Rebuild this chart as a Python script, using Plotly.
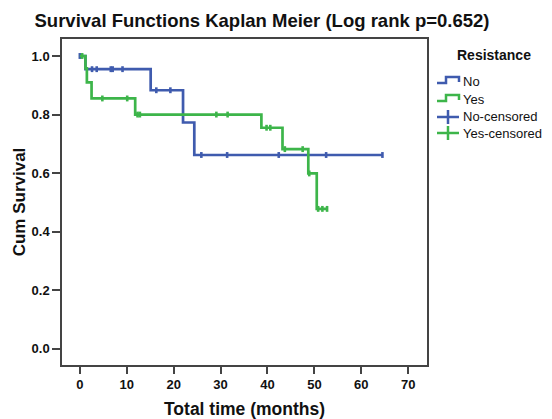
import plotly.graph_objects as go

# ---- data ----
no_times = [0, 1.2, 15.1, 22.0, 24.4, 64.5]
no_surv = [1.0, 0.955, 0.883, 0.773, 0.662, 0.662]
no_cens_t = [0, 2.6, 3.6, 6.6, 7.0, 9.1, 16.3, 19.3, 25.9, 31.4, 42.4, 52.5, 64.5]
no_cens_s = [1.0, 0.955, 0.955, 0.955, 0.955, 0.955, 0.883, 0.883,
             0.662, 0.662, 0.662, 0.662, 0.662]

yes_times = [0, 1.2, 1.5, 2.5, 11.8, 38.7, 43.2, 48.7, 50.5, 52.7]
yes_surv = [1.0, 0.958, 0.91, 0.855, 0.80, 0.755, 0.682, 0.599, 0.478, 0.478]
yes_cens_t = [0.5, 4.8, 10.1, 12.3, 12.8, 29.1, 31.5, 39.8, 40.6, 43.7, 47.5,
              48.9, 50.8, 51.7, 52.7]
yes_cens_s = [1.0, 0.855, 0.855, 0.80, 0.80, 0.80, 0.80, 0.755, 0.755, 0.682,
              0.682, 0.599, 0.478, 0.478, 0.478]

x_ticks = [0, 10, 20, 30, 40, 50, 60, 70]
y_ticks = [0.0, 0.2, 0.4, 0.6, 0.8, 1.0]
legend_title = "Resistance"
legend_labels = ["No", "Yes", "No-censored", "Yes-censored"]

BLUE = "#3f5bae"
GREEN = "#3db54a"
FONT = "Liberation Sans, Arial, sans-serif"

W, H = 552, 419
L, R, T, B = 62, 125, 39, 54
PW, PH = W - L - R, H - T - B


def px(x):
    return (x - L) / PW


def py(y):
    return (H - B - y) / PH


fig = go.Figure()
fig.add_trace(go.Scatter(x=no_times, y=no_surv, mode="lines",
                         line=dict(color=BLUE, width=2.7, shape="hv"),
                         showlegend=False))
fig.add_trace(go.Scatter(x=no_cens_t, y=no_cens_s, mode="markers",
                         marker=dict(symbol="line-ns", size=4.2,
                                     line=dict(color=BLUE, width=2.6)),
                         showlegend=False))
fig.add_trace(go.Scatter(x=yes_times, y=yes_surv, mode="lines",
                         line=dict(color=GREEN, width=2.7, shape="hv"),
                         showlegend=False))
fig.add_trace(go.Scatter(x=yes_cens_t, y=yes_cens_s, mode="markers",
                         marker=dict(symbol="line-ns", size=4.2,
                                     line=dict(color=GREEN, width=2.6)),
                         showlegend=False))

# ---- custom legend (step icons and cross icons) ----
shapes = []
annotations = []
row_y = [81, 99, 117, 133]
colors = [BLUE, GREEN, BLUE, GREEN]
for i, (lab, yy, c) in enumerate(zip(legend_labels, row_y, colors)):
    if i < 2:
        path = (f"M {px(437)},{py(yy + 2)} L {px(446)},{py(yy + 2)} "
                f"L {px(446)},{py(yy - 4)} L {px(459)},{py(yy - 4)} "
                f"L {px(459)},{py(yy + 1)}")
        shapes.append(dict(type="path", path=path, xref="paper", yref="paper",
                           line=dict(color=c, width=2.5)))
    else:
        shapes.append(dict(type="line", xref="paper", yref="paper",
                           x0=px(437), x1=px(459), y0=py(yy), y1=py(yy),
                           line=dict(color=c, width=2.5)))
        shapes.append(dict(type="line", xref="paper", yref="paper",
                           x0=px(448), x1=px(448), y0=py(yy - 7), y1=py(yy + 7),
                           line=dict(color=c, width=2.5)))
    annotations.append(dict(text=lab, xref="paper", yref="paper",
                            x=px(461), y=py(yy), xanchor="left", yanchor="middle",
                            showarrow=False,
                            font=dict(family=FONT, size=13, color="#111")))
annotations.append(dict(text=f"<b>{legend_title}</b>", xref="paper", yref="paper",
                        x=px(494), y=py(55), xanchor="center", yanchor="middle",
                        showarrow=False,
                        font=dict(family=FONT, size=14, color="#111")))

fig.update_layout(
    width=W, height=H,
    margin=dict(l=L, r=R, t=T, b=B, autoexpand=False),
    paper_bgcolor="white", plot_bgcolor="white",
    title=dict(text="<b>Survival Functions Kaplan Meier (Log rank p=0.652)</b>",
               x=262 / W, xanchor="center", y=1 - 21 / H, yanchor="middle",
               font=dict(family=FONT, size=18.5, color="#111")),
    shapes=shapes, annotations=annotations,
    xaxis=dict(range=[-3.8, 74], tickvals=x_ticks,
               ticktext=[f"<b>{v}</b>" for v in x_ticks],
               showgrid=False, zeroline=False, showline=True, mirror=True,
               linecolor="#444", linewidth=1.5, ticks="outside", ticklen=7,
               tickcolor="#444", tickwidth=1.5,
               tickfont=dict(family=FONT, size=13, color="#111"),
               title=dict(text="<b>Total time (months)</b>", standoff=14,
                          font=dict(family=FONT, size=17.5, color="#111"))),
    yaxis=dict(range=[-0.055, 1.058], tickvals=y_ticks,
               ticktext=[f"<b>{v:.1f}</b>" for v in y_ticks],
               showgrid=False, zeroline=False, showline=True, mirror=True,
               linecolor="#444", linewidth=1.5, ticks="outside", ticklen=8,
               tickcolor="#444", tickwidth=1.5,
               tickfont=dict(family=FONT, size=13, color="#111"),
               title=dict(text="<b>Cum Survival</b>", standoff=2,
                          font=dict(family=FONT, size=17, color="#111"))),
)

fig.write_html("out.html",
               config={"displayModeBar": False},
               post_script="document.body.style.margin='0';"
                           "document.body.style.padding='0';")
